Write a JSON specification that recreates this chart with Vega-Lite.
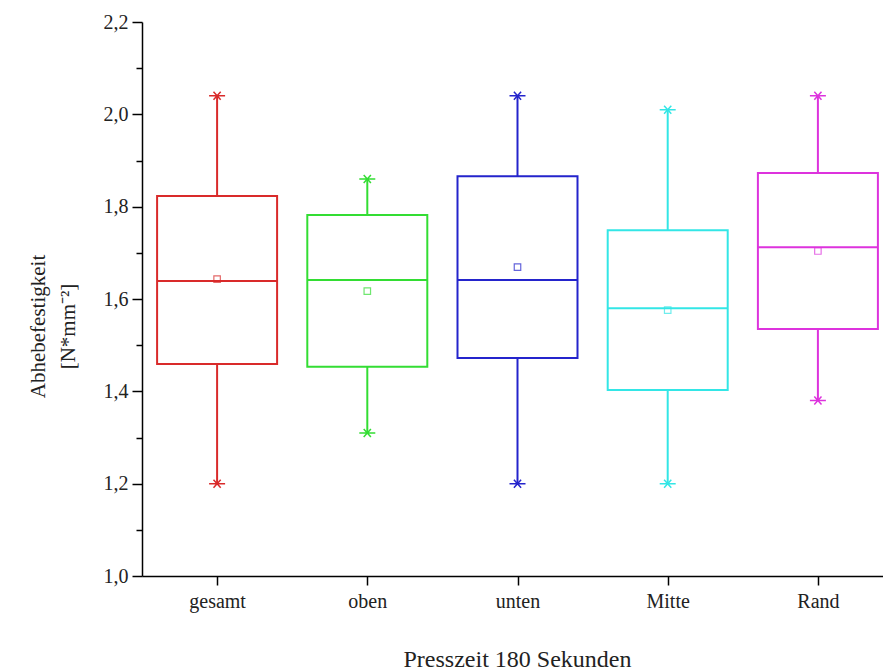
{
  "$schema": "https://vega.github.io/schema/vega-lite/v6.json",
  "autosize": "none",
  "padding": {"left": 142, "top": 22, "right": 0, "bottom": 95},
  "width": 741,
  "height": 554,
  "background": "white",
  "data": {
    "values": [
      {"cat": "gesamt", "min": 1.20, "q1": 1.459, "median": 1.639, "q3": 1.823, "max": 2.04, "mean": 1.643},
      {"cat": "oben", "min": 1.31, "q1": 1.453, "median": 1.641, "q3": 1.782, "max": 1.86, "mean": 1.617},
      {"cat": "unten", "min": 1.20, "q1": 1.472, "median": 1.641, "q3": 1.866, "max": 2.04, "mean": 1.669},
      {"cat": "Mitte", "min": 1.20, "q1": 1.403, "median": 1.580, "q3": 1.749, "max": 2.01, "mean": 1.576},
      {"cat": "Rand", "min": 1.38, "q1": 1.535, "median": 1.712, "q3": 1.873, "max": 2.04, "mean": 1.704}
    ]
  },
  "encoding": {
    "x": {
      "field": "cat", "type": "nominal", "sort": ["gesamt", "oben", "unten", "Mitte", "Rand"],
      "scale": {"type": "point", "range": [0, 751], "padding": 0.5},
      "axis": {
        "title": "Presszeit 180 Sekunden", "labelAngle": 0,
        "domainColor": "black", "domainWidth": 1.5, "tickColor": "black", "tickWidth": 1.5, "tickSize": 9,
        "labelFont": "Liberation Serif", "labelFontSize": 20, "labelColor": "#222", "labelPadding": 6,
        "titleFont": "Liberation Serif", "titleFontSize": 24, "titleFontWeight": "normal", "titleColor": "#222", "titlePadding": 36, "titleX": 375
      }
    },
    "color": {
      "field": "cat", "type": "nominal", "legend": null,
      "scale": {"domain": ["gesamt", "oben", "unten", "Mitte", "Rand"], "range": ["#d92a2a", "#33dd33", "#2424cc", "#33e6e6", "#dd33dd"]}
    }
  },
  "layer": [
    {
      "mark": {"type": "rule", "strokeWidth": 2},
      "encoding": {
        "y": {
          "field": "min", "type": "quantitative",
          "scale": {"domain": [1.0, 2.2], "nice": false, "zero": false},
          "axis": {
            "orient": "left",
            "values": [1.0, 1.2, 1.4, 1.6, 1.8, 2.0, 2.2],
            "labelExpr": "replace(format(datum.value, '.1f'), '.', ',')",
            "grid": false,
            "domainColor": "black", "domainWidth": 1.5, "tickColor": "black", "tickWidth": 1.5, "tickSize": 10,
            "labelFont": "Liberation Serif", "labelFontSize": 20, "labelColor": "#222", "labelPadding": 4,
            "title": ["Abhebefestigkeit", "[N*mm⁻²]"],
            "titleFont": "Liberation Serif", "titleFontSize": 21, "titleFontWeight": "normal", "titleColor": "#222",
            "titleAngle": -90, "titleAlign": "center", "titleBaseline": "middle", "titleLineHeight": 30,
            "titleX": -104, "titleY": 304
          }
        },
        "y2": {"field": "q1"}
      }
    },
    {
      "mark": {"type": "rule", "strokeWidth": 2},
      "encoding": {
        "y": {
          "field": "q3", "type": "quantitative",
          "axis": {
            "orient": "left",
            "values": [1.1, 1.3, 1.5, 1.7, 1.9, 2.1],
            "labels": false, "domain": false, "grid": false, "title": null,
            "tickColor": "black", "tickWidth": 1.5, "tickSize": 6
          }
        },
        "y2": {"field": "max"}
      }
    },
    {
      "mark": {"type": "bar", "filled": false, "strokeWidth": 2, "size": 120},
      "encoding": {
        "y": {"field": "q1", "type": "quantitative", "axis": null},
        "y2": {"field": "q3"}
      }
    },
    {
      "mark": {"type": "tick", "size": 120, "thickness": 2, "opacity": 1},
      "encoding": {
        "y": {"field": "median", "type": "quantitative", "axis": null}
      }
    },
    {
      "mark": {"type": "point", "shape": "square", "filled": false, "size": 42, "strokeWidth": 1.2, "opacity": 0.7},
      "encoding": {
        "y": {"field": "mean", "type": "quantitative", "axis": null}
      }
    },
    {
      "mark": {"type": "point", "shape": "M-1,0L1,0M-0.45,-0.5L0.45,0.5M-0.45,0.5L0.45,-0.5", "filled": false, "size": 256, "strokeWidth": 1.5, "opacity": 1},
      "encoding": {
        "y": {"field": "max", "type": "quantitative", "axis": null}
      }
    },
    {
      "mark": {"type": "point", "shape": "M-1,0L1,0M-0.45,-0.5L0.45,0.5M-0.45,0.5L0.45,-0.5", "filled": false, "size": 256, "strokeWidth": 1.5, "opacity": 1},
      "encoding": {
        "y": {"field": "min", "type": "quantitative", "axis": null}
      }
    }
  ],
  "resolve": {"axis": {"y": "independent"}},
  "config": {
    "view": {"stroke": null},
    "axis": {"grid": false}
  }
}
